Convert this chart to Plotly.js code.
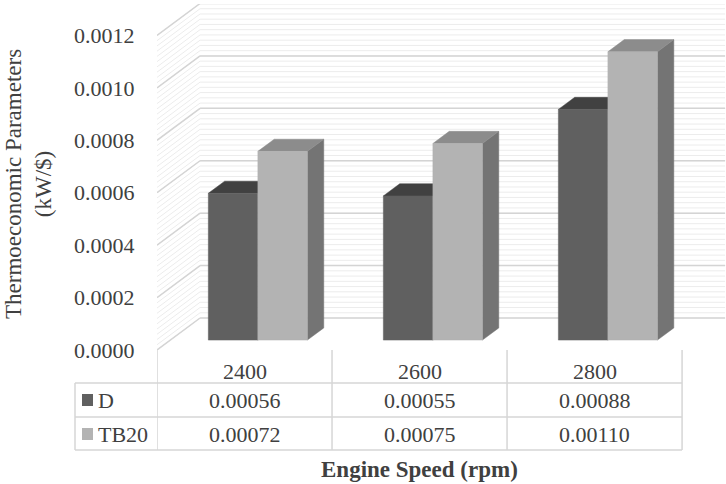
<!DOCTYPE html>
<html>
<head>
<meta charset="utf-8">
<script src="https://cdn.plot.ly/plotly-3.0.1.min.js"></script>
<style>
  html, body { margin: 0; padding: 0; background: #fff; }
  #plot { width: 726px; height: 484px; }
</style>
</head>
<body>
<div id="plot"></div>
<script>
// data
const categories = ['2400', '2600', '2800'];
const seriesNames = ['D', 'TB20'];
const valuesD = [0.00056, 0.00055, 0.00088];
const valuesTB20 = [0.00072, 0.00075, 0.00110];
const yTicks = [0, 0.0002, 0.0004, 0.0006, 0.0008, 0.0010, 0.0012];

// oblique "3d" look: depth shift in axis units
const DX = 0.246;        // 43px / 175px per category
const DY = 0.000122;     // 32px in value units
const ZF = 0.31, ZB = 0.69;   // bar front / back depth
const BAR_W = 0.283;
const Y_MAX = 0.00132;
const X_MAX = 2.751;

const FONT = 'Liberation Serif, Times New Roman, serif';
const TXT = '#404040';
const FS = 22;
const faceColors = [
    { front: '#606060', top: '#414141', side: '#4f4f4f' },
    { front: '#b3b3b3', top: '#8c8c8c', side: '#747474' }
];

// pixel layout of plot area (table sits below it)
const plotTop = 4, plotBottom = 350, plotLeft = 157, plotRight = 726;
function paperY(py) { return (plotBottom - py) / (plotBottom - plotTop); }
function paperX(px) { return (px - plotLeft) / (plotRight - plotLeft); }

const traces = [];

// walls: minor + major gridlines on back wall and left side wall
function wallLines(step, color, width) {
    const x = [], y = [];
    const n = Math.round(yTicks[yTicks.length - 1] / step);
    for (let k = 0; k <= n; k++) {
        const v = k * step;
        // left wall diagonal
        x.push(-0.5, -0.5 + DX, null);
        y.push(v, v + DY, null);
        // back wall
        x.push(-0.5 + DX, 2.5 + DX, null);
        y.push(v + DY, v + DY, null);
    }
    traces.push({
        type: 'scatter', mode: 'lines', x: x, y: y,
        line: { color: color, width: width }, hoverinfo: 'skip'
    });
}
wallLines(0.00002, '#ececec', 1);
wallLines(0.0002, '#d4d4d4', 1.5);

// bars: side, top, front faces per series
const allValues = [valuesD, valuesTB20];
allValues.forEach((vals, s) => {
    const side = { x: [], y: [] }, top = { x: [], y: [] }, front = { x: [], y: [] };
    const dxb = (ZB - ZF) * DX, dyb = (ZB - ZF) * DY;
    vals.forEach((v, i) => {
        const x0 = i + ZF * DX + (s - 1) * BAR_W;
        const x1 = x0 + BAR_W;
        const b = ZF * DY;
        const t = b + v;
        side.x.push(x1, x1 + dxb, x1 + dxb, x1, x1, null);
        side.y.push(b, b + dyb, t + dyb, t, b, null);
        top.x.push(x0, x1, x1 + dxb, x0 + dxb, x0, null);
        top.y.push(t, t, t + dyb, t + dyb, t, null);
        front.x.push(x0, x1, x1, x0, x0, null);
        front.y.push(b, b, t, t, b, null);
    });
    [['side', side], ['top', top], ['front', front]].forEach(([k, p]) => {
        traces.push({
            type: 'scatter', mode: 'lines', x: p.x, y: p.y,
            fill: 'toself', fillcolor: faceColors[s][k],
            line: { color: faceColors[s][k], width: 0.5 },
            name: seriesNames[s], hoverinfo: 'skip'
        });
    });
});

// data table under the plot
const shapes = [];
const annotations = [];
const lineStyle = { color: '#d6d6d6', width: 1.5 };
const tableLeft = paperX(75);
const catEdges = [-0.5, 0.5, 1.5, 2.5];
const tableRight = paperX(plotLeft + 3 * 175);
[383, 417, 450].forEach(py => {
    shapes.push({ type: 'line', xref: 'paper', yref: 'paper',
        x0: tableLeft, x1: tableRight, y0: paperY(py), y1: paperY(py), line: lineStyle });
});
shapes.push({ type: 'line', xref: 'paper', yref: 'paper',
    x0: tableLeft, x1: tableLeft, y0: paperY(383), y1: paperY(450), line: lineStyle });
catEdges.forEach(xv => {
    shapes.push({ type: 'line', xref: 'x', yref: 'paper',
        x0: xv, x1: xv, y0: paperY(350), y1: paperY(450), line: lineStyle });
});

function label(x, xref, py, text, extra) {
    annotations.push(Object.assign({
        x: x, y: paperY(py), xref: xref, yref: 'paper', text: text,
        xanchor: 'center', yanchor: 'middle', showarrow: false,
        font: { family: FONT, size: FS, color: TXT }
    }, extra || {}));
}

categories.forEach((c, i) => label(i, 'x', 372, c));
const rowY = [400, 434];
allValues.forEach((vals, s) => {
    vals.forEach((v, i) => label(i, 'x', rowY[s], v.toFixed(5)));
    shapes.push({ type: 'rect', xref: 'paper', yref: 'paper',
        x0: paperX(82), x1: paperX(93), y0: paperY(rowY[s] - 6), y1: paperY(rowY[s] + 6),
        fillcolor: faceColors[s].front, line: { width: 0 } });
    label(paperX(96), 'paper', rowY[s], seriesNames[s], { xanchor: 'left' });
});

// axis titles
label(1, 'x', 469, '<b>Engine Speed (rpm)</b>', { font: { family: FONT, size: 23, color: TXT } });
label(paperX(28), 'paper', 184, 'Thermoeconomic Parameters<br>(kW/$)',
    { textangle: -90, font: { family: FONT, size: 23, color: TXT } });

const layout = {
    width: 726, height: 484,
    margin: { l: plotLeft, r: 726 - plotRight, t: plotTop, b: 484 - plotBottom },
    paper_bgcolor: '#fff', plot_bgcolor: '#fff',
    showlegend: false, hovermode: false,
    xaxis: { range: [-0.5, X_MAX], showgrid: false, zeroline: false,
        showticklabels: false, ticks: '', showline: false, fixedrange: true },
    yaxis: { range: [0, Y_MAX], showgrid: false, zeroline: false, showline: false,
        tickvals: yTicks, ticktext: yTicks.map(v => v.toFixed(4)),
        ticks: 'outside', ticklen: 17, tickcolor: 'rgba(0,0,0,0)',
        tickfont: { family: FONT, size: FS, color: TXT }, fixedrange: true },
    shapes: shapes,
    annotations: annotations
};

Plotly.newPlot('plot', traces, layout, { displayModeBar: false, staticPlot: true });
</script>
</body>
</html>
